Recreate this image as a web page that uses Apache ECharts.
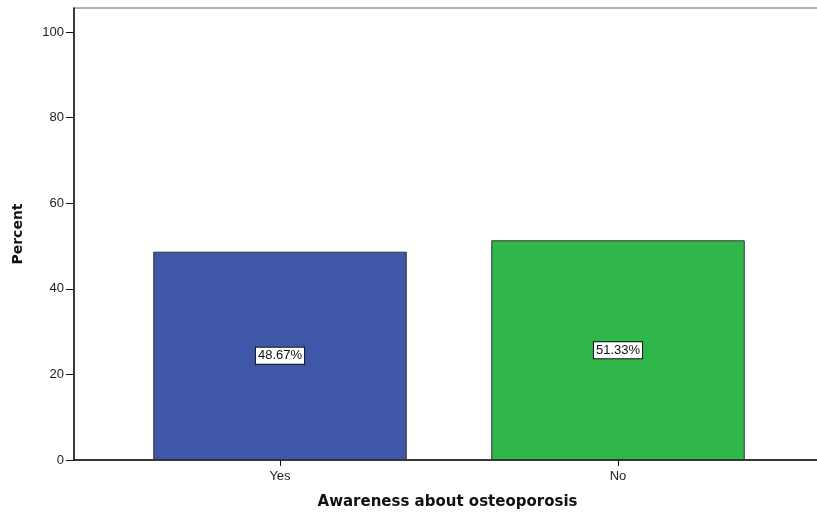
<!DOCTYPE html>
<html><head><meta charset="utf-8">
<script src="https://cdn.jsdelivr.net/npm/echarts@6/dist/echarts.min.js"></script>
<style>html,body{margin:0;padding:0;background:#fff}#c{width:817px;height:512px}</style>
</head><body><div id="c"></div>
<script>
const categories = ['Yes', 'No'];
const percents = [48.67, 51.33];
const barColors = ['#3e57a9', '#2fb74a'];
const yTicks = [0, 20, 40, 60, 80, 100];

const chart = echarts.init(document.getElementById('c'), null, {renderer: 'canvas'});
const font = '"Liberation Sans", Arial, sans-serif';
const ymax = 105.6;
chart.setOption({
  animation: false,
  backgroundColor: '#fff',
  grid: [
    {left: 74, right: -4, top: 8, bottom: 52, show: true, borderColor: '#666', borderWidth: 1, backgroundColor: 'transparent', outerBoundsMode: 'none', containLabel: false},
    {left: 111, right: 30, top: 8, bottom: 52, outerBoundsMode: 'none', containLabel: false}
  ],
  xAxis: [
    {type: 'category', gridIndex: 0, data: ['a'], axisLine: {show: true, lineStyle: {color: '#111', width: 1.5}}, axisTick: {show: false}, axisLabel: {show: false},
     name: 'Awareness about osteoporosis', nameLocation: 'middle', nameGap: 35,
     nameTextStyle: {fontFamily: 'DejaVu Sans', fontWeight: 'bold', fontSize: 15, color: '#111'}},
    {type: 'category', gridIndex: 1, data: categories, axisLine: {show: false},
     axisTick: {show: true, alignWithLabel: true, length: 6, inside: false, lineStyle: {color: '#111'}},
     axisLabel: {fontFamily: font, fontSize: 13, color: '#222', margin: 10}}
  ],
  yAxis: [
    {type: 'value', gridIndex: 0, min: 0, max: ymax, interval: 20,
     axisLine: {show: true, lineStyle: {color: '#111', width: 1.5}},
     axisTick: {show: true, length: 8, lineStyle: {color: '#111'}, customValues: yTicks},
     axisLabel: {fontFamily: font, fontSize: 13, color: '#222', margin: 10, customValues: yTicks},
     splitLine: {show: false},
     name: 'Percent', nameLocation: 'middle', nameGap: 49, nameRotate: 90,
     nameTextStyle: {fontFamily: 'DejaVu Sans', fontWeight: 'bold', fontSize: 14, color: '#111'}},
    {type: 'value', gridIndex: 1, min: 0, max: ymax, show: false, splitLine: {show: false}}
  ],
  series: [{
    type: 'bar', xAxisIndex: 1, yAxisIndex: 1, barCategoryGap: '25%',
    data: percents.map((v, i) => ({value: v, itemStyle: {color: barColors[i]}})),
    itemStyle: {borderColor: '#333', borderWidth: 1},
    label: {show: true, position: 'inside', formatter: p => p.value.toFixed(2) + '%',
      fontFamily: font, fontSize: 13, color: '#111', backgroundColor: '#fff', borderColor: '#111', borderWidth: 1, padding: [2, 2, 1, 2]}
  }]
});
</script></body></html>
